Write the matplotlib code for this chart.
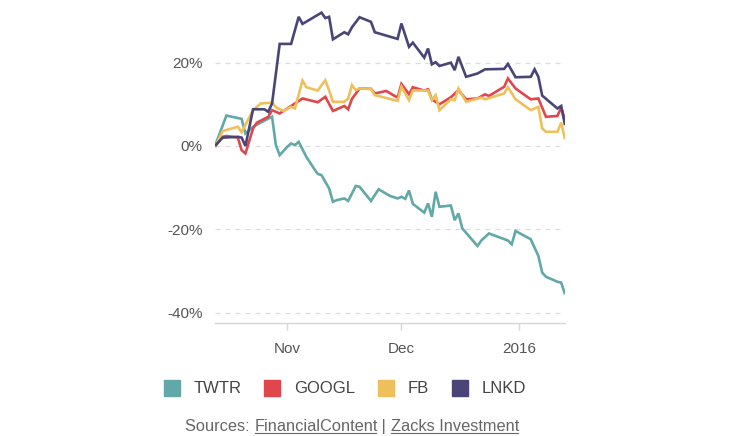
import matplotlib
matplotlib.use("Agg")
import matplotlib.pyplot as plt
from matplotlib.lines import Line2D
import pandas as pd

plt.rcParams['font.family'] = ['Liberation Sans', 'DejaVu Sans']

# ---- data (percent change since Oct 13, 2015) ----
twtr_dates = ["2015-10-13", "2015-10-16", "2015-10-20", "2015-10-21", "2015-10-23", "2015-10-26",
              "2015-10-28", "2015-10-29", "2015-10-30", "2015-11-01", "2015-11-02", "2015-11-03",
              "2015-11-04", "2015-11-06", "2015-11-08", "2015-11-09", "2015-11-10", "2015-11-12",
              "2015-11-13", "2015-11-14", "2015-11-16", "2015-11-17", "2015-11-19", "2015-11-20",
              "2015-11-23", "2015-11-25", "2015-11-28", "2015-11-30", "2015-12-01", "2015-12-02",
              "2015-12-03", "2015-12-04", "2015-12-07", "2015-12-08", "2015-12-09", "2015-12-10",
              "2015-12-11", "2015-12-14", "2015-12-15", "2015-12-16", "2015-12-17", "2015-12-21",
              "2015-12-22", "2015-12-24", "2015-12-29", "2015-12-30", "2015-12-31", "2016-01-04",
              "2016-01-06", "2016-01-07", "2016-01-08", "2016-01-11", "2016-01-12", "2016-01-13"]
twtr_vals = [0, 7.3, 6.5, 3.0, 4.6, 6.1,
             7.0, 0.2, -2.2, -0.2, 0.6, 0.2,
             1.0, -2.6, -5.4, -6.7, -7.0, -10.2,
             -13.4, -13.0, -12.6, -13.2, -9.6, -9.8,
             -13.2, -10.4, -12.0, -12.6, -12.2, -12.7,
             -10.7, -13.9, -16.0, -13.8, -17.0, -11.0,
             -14.6, -14.3, -17.8, -16.2, -19.8, -24.0,
             -22.7, -21.0, -22.7, -23.6, -20.4, -22.4,
             -26.4, -30.4, -31.4, -32.6, -32.8, -35.6]

googl_dates = ["2015-10-13", "2015-10-15", "2015-10-16", "2015-10-19", "2015-10-20", "2015-10-21",
               "2015-10-23", "2015-10-24", "2015-10-27", "2015-10-28", "2015-10-30", "2015-11-02",
               "2015-11-05", "2015-11-09", "2015-11-11", "2015-11-13", "2015-11-16", "2015-11-17",
               "2015-11-18", "2015-11-20", "2015-11-23", "2015-11-24", "2015-11-27", "2015-11-30",
               "2015-12-01", "2015-12-03", "2015-12-04", "2015-12-07", "2015-12-08", "2015-12-09",
               "2015-12-11", "2015-12-14", "2015-12-16", "2015-12-18", "2015-12-21", "2015-12-23",
               "2015-12-24", "2015-12-28", "2015-12-29", "2015-12-31", "2016-01-04", "2016-01-06",
               "2016-01-08", "2016-01-11", "2016-01-12", "2016-01-13"]
googl_vals = [0, 2.2, 2.4, 2.0, -1.0, -1.8,
              4.2, 5.6, 7.0, 8.6, 7.8, 9.6,
              11.4, 10.5, 11.8, 8.4, 9.6, 8.8,
              11.3, 13.8, 13.7, 12.6, 13.2, 11.6,
              14.9, 12.4, 14.1, 13.3, 13.6, 11.2,
              10.0, 11.7, 13.4, 11.2, 11.4, 12.4,
              12.0, 14.2, 16.2, 13.8, 11.2, 11.4,
              7.0, 7.2, 9.2, 6.2]

fb_dates = ["2015-10-13", "2015-10-15", "2015-10-19", "2015-10-20", "2015-10-23", "2015-10-25",
            "2015-10-28", "2015-10-29", "2015-10-31", "2015-11-02", "2015-11-03", "2015-11-05",
            "2015-11-06", "2015-11-09", "2015-11-11", "2015-11-12", "2015-11-13", "2015-11-16",
            "2015-11-17", "2015-11-18", "2015-11-19", "2015-11-20", "2015-11-23", "2015-11-24",
            "2015-11-25", "2015-11-30", "2015-12-01", "2015-12-03", "2015-12-04", "2015-12-08",
            "2015-12-09", "2015-12-10", "2015-12-11", "2015-12-14", "2015-12-15", "2015-12-16",
            "2015-12-18", "2015-12-22", "2015-12-23", "2015-12-28", "2015-12-29", "2015-12-31",
            "2016-01-04", "2016-01-06", "2016-01-07", "2016-01-08", "2016-01-11", "2016-01-12",
            "2016-01-13"]
fb_vals = [-0.4, 3.6, 4.6, 3.3, 8.6, 10.2,
           10.4, 9.3, 8.4, 9.4, 9.0, 15.7,
           14.1, 13.3, 15.8, 13.3, 10.6, 10.6,
           11.4, 14.6, 13.4, 13.8, 13.7, 12.2,
           12.0, 10.8, 14.2, 11.0, 13.3, 13.3,
           11.0, 12.2, 8.6, 11.2, 11.0, 13.8,
           10.6, 11.6, 11.2, 12.6, 14.1, 11.2,
           8.6, 9.4, 4.2, 3.4, 3.4, 5.6,
           1.6]

lnkd_dates = ["2015-10-13", "2015-10-15", "2015-10-19", "2015-10-20", "2015-10-21", "2015-10-23",
              "2015-10-26", "2015-10-27", "2015-10-28", "2015-10-30", "2015-11-02", "2015-11-04",
              "2015-11-05", "2015-11-10", "2015-11-11", "2015-11-12", "2015-11-13", "2015-11-16",
              "2015-11-17", "2015-11-18", "2015-11-20", "2015-11-23", "2015-11-24", "2015-11-30",
              "2015-12-01", "2015-12-03", "2015-12-04", "2015-12-07", "2015-12-08", "2015-12-09",
              "2015-12-10", "2015-12-11", "2015-12-14", "2015-12-15", "2015-12-16", "2015-12-18",
              "2015-12-21", "2015-12-23", "2015-12-28", "2015-12-29", "2015-12-31", "2016-01-04",
              "2016-01-05", "2016-01-06", "2016-01-07", "2016-01-11", "2016-01-12", "2016-01-13"]
lnkd_vals = [0, 2.0, 2.2, 2.0, 0, 8.8,
             8.8, 8.2, 10.2, 24.5, 24.5, 31.0,
             29.3, 32.0, 30.7, 31.0, 25.6, 27.3,
             26.8, 28.5, 30.9, 29.8, 27.3, 25.7,
             29.4, 23.8, 24.8, 21.2, 23.4, 19.6,
             20.1, 19.2, 20.0, 18.2, 21.4, 16.6,
             17.4, 18.4, 18.5, 19.7, 16.5, 16.6,
             18.4, 16.6, 12.1, 9.0, 9.6, 5.0]

series_names = ["TWTR", "GOOGL", "FB", "LNKD"]
series_colors = ["#62a8a8", "#e0474c", "#eec05c", "#4a4577"]
ytick_vals = [-40, -20, 0, 20]
ytick_labels = ["-40%", "-20%", "0%", "20%"]
xtick_dates = ["2015-11-01", "2015-12-01", "2016-01-01"]
xtick_labels = ["Nov", "Dec", "2016"]

# ---- figure ----
fig = plt.figure(figsize=(7.30, 4.36), dpi=100)
ax = fig.add_axes([215 / 730, 1 - 323 / 436, 350 / 730, (323 - 8.5) / 436])

data = [(twtr_dates, twtr_vals), (googl_dates, googl_vals),
        (fb_dates, fb_vals), (lnkd_dates, lnkd_vals)]
for (d, v), name, c in zip(data, series_names, series_colors):
    ax.plot(pd.to_datetime(d), v, color=c, lw=1.9, label=name,
            solid_joinstyle='miter', solid_capstyle='butt', zorder=3)

ax.set_xlim(pd.Timestamp("2015-10-13"), pd.Timestamp("2016-01-13"))
ax.set_ylim(-42.5, 33)

ax.set_yticks(ytick_vals)
ax.set_yticklabels(ytick_labels)
ax.set_xticks(pd.to_datetime(xtick_dates))
ax.set_xticklabels(xtick_labels)

for s in ["top", "right", "left"]:
    ax.spines[s].set_visible(False)
ax.spines["bottom"].set_color("#d6d6d6")
ax.spines["bottom"].set_linewidth(1)

ax.tick_params(axis='y', length=0, pad=9, labelsize=11, labelcolor="#555555")
ax.tick_params(axis='x', length=5, width=1, color="#d6d6d6", pad=9,
               labelsize=11, labelcolor="#555555")
ax.grid(axis='y', color="#dddddd", linestyle=(0, (4, 4)), linewidth=0.9)
ax.grid(axis='x', visible=False)
ax.set_axisbelow(True)

handles = [Line2D([], [], marker='s', linestyle='none', markersize=11,
                  markerfacecolor=c, markeredgecolor=c) for c in series_colors]
fig.legend(handles, series_names, loc='center', bbox_to_anchor=(0.472, 0.108),
           ncol=4, frameon=False, fontsize=12, handlelength=1.0,
           handletextpad=0.8, columnspacing=1.35, labelcolor="#444444")

# ---- source line with underlined links ----
src_color = "#666666"
parts = [("Sources: ", False), ("FinancialContent", True), (" | ", False), ("Zacks Investment", True)]
fig.canvas.draw()
renderer = fig.canvas.get_renderer()
x_px = 185
base_px = 436 - 431
underlines = []
for txt, ul in parts:
    t = fig.text(x_px / 730, base_px / 436, txt, fontsize=11.8, color=src_color,
                 va='baseline', ha='left')
    bb = t.get_window_extent(renderer=renderer)
    if ul:
        underlines.append((bb.x0 + 0.5, bb.x1 - 1.5))
    x_px = bb.x1
for x0, x1 in underlines:
    y = (base_px - 2) / 436
    fig.add_artist(Line2D([x0 / 730, x1 / 730], [y, y], transform=fig.transFigure,
                          color=src_color, lw=0.8))

fig.savefig("out.png", dpi=100)
